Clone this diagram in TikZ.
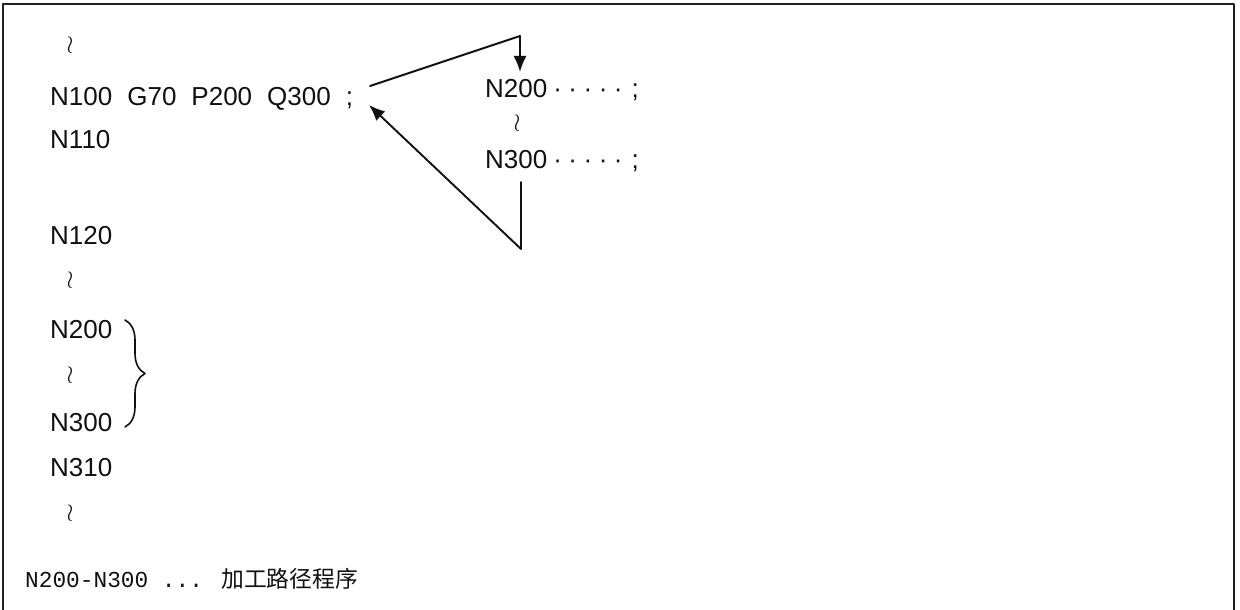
\documentclass[tikz,border=0pt]{standalone}
\usepackage{fontspec}
\setmainfont{Liberation Sans}
\newfontfamily\monofont{Liberation Mono}
\newfontfamily\cjk{Noto Sans CJK SC}
\usetikzlibrary{arrows.meta,decorations.pathreplacing}
\definecolor{progInk}{HTML}{111111}
\definecolor{progFrame}{HTML}{202020}
\newcommand{\gap}{\hspace{15pt}}
\newcommand{\dotrun}{\hspace{6pt}·\hspace{6.5pt}·\hspace{6.5pt}·\hspace{6.5pt}·\hspace{6.5pt}·\hspace{9pt};}

\begin{document}
\begin{tikzpicture}[x=1pt,y=-1pt,>=Latex,line cap=round,line join=round]
\useasboundingbox (0,0) rectangle (1240,610);
\path[fill=white] (0,0) rectangle (1240,610);
\draw[progFrame,line width=2.5pt] (3,612) -- (3,4) -- (1234,4) -- (1234,612);
\tikzset{code/.style={anchor=base west,inner sep=0pt,text=progInk,font=\fontsize{26}{26}\selectfont},
  skip/.style={inner sep=0pt,text=progInk,font=\fontsize{36}{36}\selectfont},
  link/.style={draw=progInk,line width=1.9pt},
  tip/.style={-{Latex[length=16pt,width=13pt]}}}
% main program
\node[skip] (s1) at (70,45) {$\wr$};
\node[code] (n100) at (50,105) {N100\gap G70\gap P200\gap Q300\gap;};
\node[code] (n110) at (50,148) {N110};
\node[code] (n120) at (50,244) {N120};
\node[skip] (s2) at (70,280) {$\wr$};
\node[code] (n200) at (50,338) {N200};
\node[skip] (s3) at (70,375) {$\wr$};
\node[code] (n300) at (50,431) {N300};
\node[code] (n310) at (50,476) {N310};
\node[skip] (s4) at (70,513) {$\wr$};
\draw[progInk,line width=1.6pt,decorate,decoration={brace,amplitude=20pt}] (125,320) -- (125,427);
% finishing block
\node[code] (r200) at (485,97) {N200\dotrun};
\node[skip] (s5) at (517,123) {$\wr$};
\node[code] (r300) at (485,168) {N300\dotrun};
\coordinate (exitpt) at (370,86);
\coordinate (backpt) at (369,105);
\coordinate (topturn) at (520,36);
\coordinate (botturn) at (521,249);
\draw[link,tip] (exitpt) -- (topturn) -- (topturn |- 0,72);
\draw[link,tip] (botturn |- 0,182) -- (botturn) -- (backpt);
\node[anchor=base west,inner sep=0pt,text=progInk,font=\fontsize{22.8}{22.8}\selectfont] (note) at (25,587) {\monofont N200-N300 ... \cjk 加工路径程序};
\end{tikzpicture}
\end{document}
